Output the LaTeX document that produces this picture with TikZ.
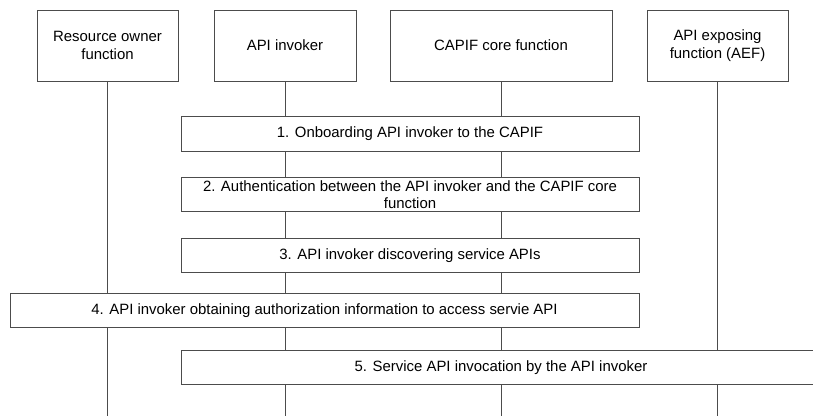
\documentclass[tikz,border=0pt]{standalone}
\usepackage{fontspec}
\setmainfont{Liberation Sans}
\usetikzlibrary{backgrounds}
\tikzset{
	entity/.style={draw=black!70, fill=white, line width=0.5pt, minimum height=1.42cm, align=center, font=\fontsize{8.5}{10}\selectfont},
	stepbox/.style={draw=black!70, fill=white, line width=0.5pt, minimum height=0.69cm, align=center, inner sep=1pt, font=\fontsize{8.5}{10}\selectfont},
	lifeline/.style={draw=black!70, line width=0.5pt}
}
\begin{document}
\begin{tikzpicture}[x=0.02cm, y=-0.02cm]
	\useasboundingbox (0,0) rectangle (813,416);
	% entities
	\node[entity, minimum width=2.82cm] (ro) at (107.5,45.5) {Resource owner\\function};
	\node[entity, minimum width=2.84cm] (inv) at (285,45.5) {API invoker};
	\node[entity, minimum width=4.44cm] (ccf) at (501,45.5) {CAPIF core function};
	\node[entity, minimum width=2.82cm] (aef) at (717.5,45.5) {API exposing\\function (AEF)};
	\coordinate (bot) at (0,416);
	% steps
	\node[stepbox, minimum width=9.16cm] (s1) at (410,134) {1. Onboarding API invoker to the CAPIF};
	\node[stepbox, minimum width=9.16cm] (s2) at (410,194.5) {2. Authentication between the API invoker and the CAPIF core\\function};
	\node[stepbox, minimum width=9.16cm] (s3) at (410,255.5) {3. API invoker discovering service APIs};
	\node[stepbox, minimum width=12.58cm] (s4) at (324.5,310.5) {4. API invoker obtaining authorization information to access servie API};
	\node[stepbox, minimum width=12.8cm] (s5) at (501,367.5) {5. Service API invocation by the API invoker};
	% lifelines
	\begin{scope}[on background layer]
		\foreach \n in {ro,inv,ccf,aef}{
			\draw[lifeline] (\n.south) -- (\n.south |- bot);
		}
	\end{scope}
\end{tikzpicture}
\end{document}
